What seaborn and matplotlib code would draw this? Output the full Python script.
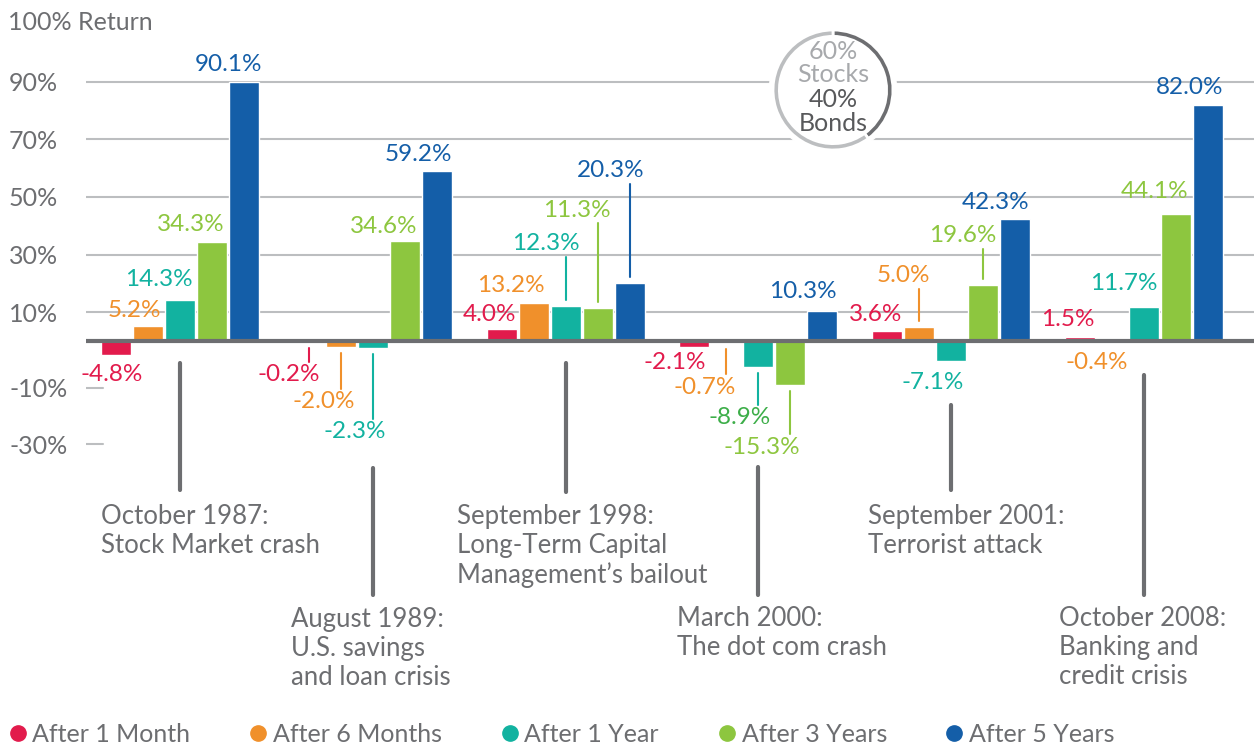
import matplotlib
matplotlib.use("Agg")
import matplotlib.pyplot as plt
from matplotlib.lines import Line2D
from matplotlib.patches import Circle
import numpy as np
import pandas as pd
import seaborn as sns

# data
events = ["1987", "1989", "1998", "2000", "2001", "2008"]
periods = ["After 1 Month", "After 6 Months", "After 1 Year", "After 3 Years", "After 5 Years"]
returns = [
    [-4.8, 5.2, 14.3, 34.3, 90.1],
    [-0.2, -2.0, -2.3, 34.6, 59.2],
    [4.0, 13.2, 12.3, 11.3, 20.3],
    [-2.1, -0.7, -8.9, -15.3, 10.3],
    [3.6, 5.0, -7.1, 19.6, 42.3],
    [1.5, -0.4, 11.7, 44.1, 82.0],
]
event_labels = [
    "October 1987:\nStock Market crash",
    "August 1989:\nU.S. savings\nand loan crisis",
    "September 1998:\nLong-Term Capital\nManagement\u2019s bailout",
    "March 2000:\nThe dot com crash",
    "September 2001:\nTerrorist attack",
    "October 2008:\nBanking and\ncredit crisis",
]
ytick_labels = ["90%", "70%", "50%", "30%", "10%", "-10%", "-30%"]
mix_values = [40, 60]
mix_text = ["60%", "Stocks", "40%", "Bonds"]

colors = ["#E21B4C", "#F0902B", "#12B2A0", "#8DC63F", "#145EA8"]
label_colors = [colors[:] for _ in events]
label_colors[3][2] = "#3DAE49"
gray = "#6D6E71"
light = "#BCBEC0"

# label layout (pixels): gap away from bar end, x shift of right edge, leader line
gaps = [[20, 16, 20, 18, 17.5], [33, 55, 84, 15, 16.5], [14.5, 17, 62, 98, 112],
        [15, 44, 51, 62, 20], [16.6, 50.6, 20.6, 48.6, 17], [16.7, 20, 24, 22, 17]]
shifts = [[12, -2, -2, -2, 3], [-4, -1, -2, -2, 0], [0, -4, -1, -2, 0],
          [-3, -6, -3, -5, -1], [0, -4, -2, -2, -1], [0, 1, -2, -3, 0]]
leaders = [[0, 0, 0, 0, 0], [1, 1, 1, 0, 0], [0, 0, 1, 1, 1],
           [0, 1, 1, 1, 0], [0, 1, 0, 1, 0], [0, 0, 0, 0, 0]]
event_line_px = [(363, 490), (468, 595), (363, 492), (467, 595), (405, 490), (375, 595)]
event_text_pos = [(-79, 504), (-82, 607), (-109, 504), (-81, 606), (-83, 504), (-85, 606)]

df = pd.DataFrame([(e, p, v) for e, row in zip(events, returns) for p, v in zip(periods, row)],
                  columns=["event", "period", "value"])

sns.set_theme(style="white")
plt.rcParams["font.family"] = ["Lato", "DejaVu Sans"]
FS = 18.5
FS_VAL = 17.5

W, H = 1254, 747
fig = plt.figure(figsize=(W / 100, H / 100), dpi=100)
ax = fig.add_axes([86 / W, 0, 1168 / W, 1])

ymax = 341 / 2.88
ymin = -(H - 341) / 2.88
ppu = H / (ymax - ymin)  # pixels per data unit

sns.barplot(data=df, x="event", y="value", hue="period", palette=colors, saturation=1,
            width=0.83, gap=0.06, legend=False, ax=ax, zorder=3)
bars = sorted(ax.patches, key=lambda r: r.get_x())

ax.set_xlim(-0.4876, 5.5705)
ax.set_ylim(ymin, ymax)
for s in ax.spines.values():
    s.set_visible(False)
ax.set_xlabel("")
ax.set_ylabel("")
ax.set_xticks([])

# grid and axis ticks
grid_vals = [90, 70, 50, 30, 10]
neg_vals = [-16.3, -35.8]
for g in grid_vals:
    ax.axhline(g, color=light, lw=1.5, zorder=1)
for g in neg_vals:
    ax.axhline(g, xmin=0, xmax=17 / 1168, color=light, lw=1.5, zorder=1)
ax.axhline(0, color=gray, lw=3, zorder=4)
ax.set_yticks(grid_vals + neg_vals)
ax.set_yticklabels(ytick_labels, fontsize=18, color=gray)
ax.tick_params(axis="y", length=0, pad=55.4)
for lab in ax.get_yticklabels():
    lab.set_horizontalalignment("left")

fig.text(8 / W, 1 - 22 / H, "100% Return", fontsize=18, color=gray, va="center", ha="left")

# value labels
for gi in range(len(events)):
    for bi in range(len(periods)):
        r = bars[gi * 5 + bi]
        v = returns[gi][bi]
        sgn = 1 if v >= 0 else -1
        xc = r.get_x() + r.get_width() / 2
        xr = r.get_x() + r.get_width()
        gap = gaps[gi][bi]
        ax.annotate(f"{v:.1f}%", xy=(xr, v), xytext=(shifts[gi][bi] * 0.72, sgn * gap * 0.72),
                    textcoords="offset points", ha="right", va="center", fontsize=FS_VAL,
                    color=label_colors[gi][bi], zorder=5)
        if leaders[gi][bi]:
            y0 = v + sgn * 6 / ppu
            y1 = v + sgn * (gap - 13) / ppu
            ax.plot([xc, xc], [y0, y1], color=colors[bi], lw=1.5, zorder=5)

# event markers
for gi in range(len(events)):
    r = bars[gi * 5 + 2]
    xc = r.get_x() + r.get_width() / 2
    top, bot = event_line_px[gi]
    ax.plot([xc, xc], [(341 - top) / 2.88, (341 - bot) / 2.88], color=gray, lw=3, zorder=2)
    dx, ty = event_text_pos[gi]
    ax.annotate(event_labels[gi], xy=(xc, (341 - ty) / 2.88), xytext=(dx * 0.72, 0),
                textcoords="offset points", ha="left", va="top", fontsize=FS,
                color=gray, linespacing=1.2)

# legend
handles = [Line2D([], [], marker="o", ls="", ms=11, color=c) for c in colors]
fig.legend(handles, periods, loc="center left", bbox_to_anchor=(10 / W, 1 - 734 / H),
           ncol=5, frameon=False, fontsize=18, handlelength=0.6, handletextpad=0.3,
           columnspacing=2.4, borderaxespad=0, borderpad=0, labelcolor=gray)

# 60/40 donut
R = 66
cx, cy = 833, 90
dax = fig.add_axes([(cx - 75) / W, 1 - (cy + 75) / H, 150 / W, 150 / H])
dax.set_xlim(-75 / R, 75 / R)
dax.set_ylim(-75 / R, 75 / R)
dax.set_aspect("equal")
dax.axis("off")
dax.add_patch(Circle((0, 0), 1.06, color="white", zorder=0))
dax.pie(mix_values, colors=[gray, light], startangle=90, counterclock=False, radius=1,
        wedgeprops=dict(width=7 / R, edgecolor="white", linewidth=2))
text_dy = [42, 17, -10, -37]
text_col = ["#A7A9AC", "#A7A9AC", "#58595B", "#58595B"]
for t, dy, c in zip(mix_text, text_dy, text_col):
    dax.text(0, dy / R, t, ha="center", va="center", fontsize=18, color=c)

fig.savefig("out.png", dpi=100)
